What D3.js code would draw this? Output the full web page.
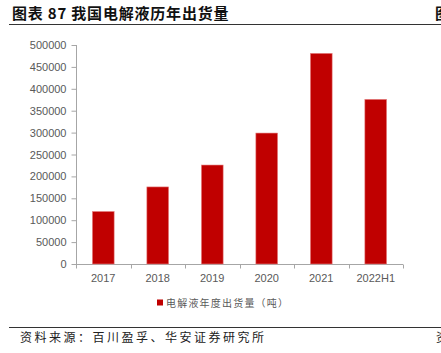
<!DOCTYPE html>
<html>
<head>
<meta charset="utf-8">
<script src="https://d3js.org/d3.v7.min.js"></script>
<style>
  body { margin: 0; background: #fff; }
  text { font-family: "Liberation Sans", Arial, sans-serif; }
  .cjk { font-family: "Noto Sans CJK SC", sans-serif; }
</style>
</head>
<body>
<script>
// data
const years = ["2017", "2018", "2019", "2020", "2021", "2022H1"];
const shipments = [120000, 176000, 226000, 299000, 481000, 376000];
const yTicks = [0, 50000, 100000, 150000, 200000, 250000, 300000, 350000, 400000, 450000, 500000];

const W = 441, H = 353;
const svg = d3.select("body").append("svg")
  .attr("width", W).attr("height", H);

// title + rule
svg.append("text").attr("class", "cjk")
  .attr("x", 12).attr("y", 18.5)
  .attr("font-size", 15).attr("font-weight", "bold").attr("fill", "#111")
  .attr("letter-spacing", 0.8)
  .text("图表 87 我国电解液历年出货量");
svg.append("text").attr("class", "cjk")
  .attr("x", 435).attr("y", 18.5)
  .attr("font-size", 15).attr("font-weight", "bold").attr("fill", "#111")
  .text("图");
svg.append("line").attr("x1", 9).attr("x2", W).attr("y1", 24.5).attr("y2", 24.5)
  .attr("stroke", "#333").attr("stroke-width", 1);

// plot area
const x = d3.scaleBand().domain(years).range([76, 403]).paddingInner(0.6).paddingOuter(0.3);
const y = d3.scaleLinear().domain([0, 500000]).range([264, 45]);

const gy = svg.append("g").attr("transform", "translate(76.5,0)")
  .call(d3.axisLeft(y).tickValues(yTicks).tickSize(5).tickPadding(5).tickFormat(d3.format("d")));
gy.select(".domain").attr("stroke", "#a6a6a6").attr("d", "M0,45V264.5");
gy.selectAll(".tick line").attr("stroke", "#a6a6a6");
gy.selectAll(".tick text").attr("fill", "#595959").attr("font-size", 11)
  .attr("font-family", "Liberation Sans, Arial, sans-serif");

// x axis with ticks at band edges
const gx = svg.append("g").attr("transform", "translate(0,264.5)");
gx.append("line").attr("x1", 76).attr("x2", 403).attr("stroke", "#a6a6a6");
const edges = d3.range(years.length + 1).map(i => 76 + i * (327 / years.length));
gx.selectAll(".xt").data(edges).enter().append("line")
  .attr("x1", d => Math.round(d) + 0.5).attr("x2", d => Math.round(d) + 0.5)
  .attr("y1", 0).attr("y2", 4).attr("stroke", "#a6a6a6");
gx.selectAll(".xl").data(years).enter().append("text")
  .attr("x", d => x(d) + x.bandwidth() / 2).attr("y", 17)
  .attr("text-anchor", "middle").attr("font-size", 11).attr("fill", "#595959")
  .text(d => d);

// bars
svg.selectAll(".bar").data(years).enter().append("rect")
  .attr("x", d => x(d))
  .attr("y", (d, i) => y(shipments[i]))
  .attr("width", x.bandwidth())
  .attr("height", (d, i) => y(0) - y(shipments[i]))
  .attr("fill", "#c00000")
  .attr("stroke", "#e88a8a").attr("stroke-width", 0.6);

// legend
svg.append("rect").attr("x", 157).attr("y", 299.5).attr("width", 6).attr("height", 6).attr("fill", "#c00000");
svg.append("text").attr("class", "cjk")
  .attr("x", 166).attr("y", 306.5).attr("font-size", 10).attr("fill", "#595959")
  .attr("letter-spacing", 1.2)
  .text("电解液年度出货量（吨）");

// footer
svg.append("line").attr("x1", 9).attr("x2", W).attr("y1", 327.5).attr("y2", 327.5)
  .attr("stroke", "#333").attr("stroke-width", 1);
svg.append("text").attr("class", "cjk")
  .attr("x", 20).attr("y", 342).attr("font-size", 12).attr("fill", "#222")
  .attr("letter-spacing", 2.5)
  .text("资料来源：百川盈孚、华安证券研究所");
svg.append("text").attr("class", "cjk")
  .attr("x", 436).attr("y", 342).attr("font-size", 12).attr("fill", "#222")
  .text("资");
</script>
</body>
</html>
